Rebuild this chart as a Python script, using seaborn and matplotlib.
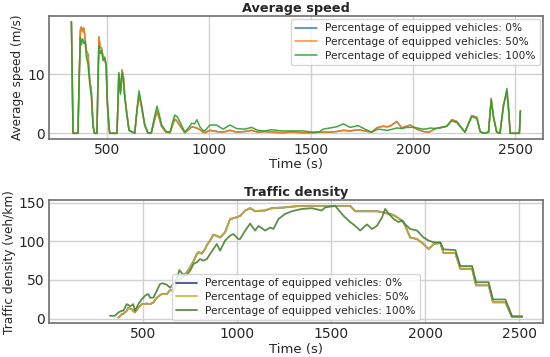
import numpy as np
import pandas as pd
import matplotlib
matplotlib.use("Agg")
import matplotlib.pyplot as plt
import seaborn as sns

nan = np.nan

# Average speed (m/s)
t_speed = [327, 335, 359, 365, 371, 376, 382, 388, 394, 400, 408, 417, 425, 433, 440,
           452, 457, 462, 468, 474, 482, 490, 497, 503, 511, 515, 550, 555, 559, 567,
           575, 582, 588, 597, 609, 637, 648, 658, 670, 686, 702, 718, 732, 746, 757,
           768, 790, 810, 822, 833, 845, 860, 882, 900, 916, 930, 941, 956, 971, 980,
           1005, 1037, 1070, 1103, 1136, 1176, 1209, 1240, 1274, 1307, 1356, 1405,
           1460, 1510, 1540, 1559, 1593, 1625, 1658, 1691, 1731, 1764, 1797, 1821,
           1829, 1854, 1871, 1887, 1920, 1944, 1969, 1985, 2009, 2018, 2050, 2075,
           2083, 2110, 2140, 2165, 2189, 2214, 2238, 2254, 2270, 2287, 2312, 2328,
           2345, 2369, 2382, 2393, 2409, 2425, 2442, 2459, 2467, 2475, 2520, 2525]
speed_50 = [18.9, 0, 0, 9, 17.5, 18.0, 17.2, 17.8, 16.0, 14.0, 13.4, 9.0, 7.0, 1.5, 0,
            0, 9, 16.3, 14.5, 14.5, 13.0, 12.5, 11.5, 5.0, 1.0, 0, 0, 5, 10.0, 7.0,
            10.7, 9.5, 6.5, 3.8, 0.5, 0, 3.8, 6.5, 4.5, 1.3, 0, 0, 2.0, 3.7, 2.6,
            1.2, 0.2, 0.1, 1.4, 2.4, 2.0, 1.2, 0.1, 0.6, 1.1, 1.0, 0.9, 0.6, 0.2, 0.1,
            0.5, 0.3, 0.2, 0.5, 0.2, 0.3, 0.5, 0.2, 0.3, 0.2, 0.1, 0.2,
            0.1, 0.1, 0.2, 0.2, 0.2, 0.3, 0.5, 0.4, 0.6, 0.4, 0.2, 0.9,
            1.0, 1.2, 1.1, 1.2, 2.0, 0.9, 1.2, 1.4, 0.9, 0.7, 0.3, 0.2,
            0.3, 0.8, 1.0, 1.2, 2.3, 2.0, 0.9, 0.2, 1.6, 3.0, 2.7, 0.3,
            0, 0.2, 5.9, 2.9, 0.2, 0, 4.8, 7.0, 4.0, 0, 0, 3.8]
speed_100 = [18.9, 0, 0, 9, 16.2, 15.0, 16.0, 15.2, 15.6, 13.0, 11.7, 8.3, 6.1, 1.0, 0,
             0, 8, 14.8, 13.5, 14.0, 12.3, 12.9, 11.7, 5.5, 1.2, 0, 0, 5, 10.3, 6.6,
             10.2, 8.5, 6.0, 3.4, 0.5, 0, 4.0, 7.2, 4.9, 1.5, 0.1, 0.1, 2.5, 4.6, 3.2,
             1.5, 0.3, 0.2, 1.8, 3.1, 2.8, 1.8, 0.2, 0.9, 1.7, 1.6, 2.3, 1.1, 0.5, 0.4,
             1.4, 1.4, 0.7, 1.4, 0.8, 0.7, 1.0, 0.5, 0.4, 0.6, 0.4, 0.4,
             0.4, 0.2, 0.2, 0.7, 0.9, 1.1, 1.6, 1.0, 1.3, 0.7, 0.2, 0.6,
             0.7, 0.6, 0.5, 0.6, 0.9, 0.8, 1.0, 1.0, 1.0, 0.9, 0.7, 0.8,
             0.9, 0.8, 1.0, 1.2, 2.1, 1.8, 0.8, 0.2, 1.5, 2.8, 2.5, 0.3,
             0, 0.2, 5.6, 2.7, 0.2, 0, 4.5, 7.6, 4.3, 0, 0, 3.8]
speed_0 = list(speed_50)  # hidden under the 50% line in the original

# Traffic density (veh/km)
t_dens = [324, 350, 369, 378, 387, 395, 404, 413, 422, 431, 440, 448, 457, 475, 493,
          511, 520, 528, 537, 555, 573, 590, 599, 608, 626, 644, 661, 682, 693, 706,
          714, 732, 750, 759, 768, 777, 785, 794, 803, 812, 821, 830, 839, 856, 874,
          892, 910, 936, 963, 980, 1007, 1016, 1043, 1069, 1096, 1113, 1149, 1176,
          1193, 1220, 1255, 1291, 1344, 1397, 1450, 1468, 1521, 1566, 1601, 1628,
          1654, 1690, 1717, 1743, 1770, 1787, 1805, 1832, 1858, 1876, 1885, 1920,
          1956, 1991, 2018, 2045, 2080, 2097, 2160, 2186, 2249, 2270, 2337, 2360,
          2426, 2461, 2515]
dens_50 = [nan, nan, 1.3, 3, 5.6, 6, 7.8, 10, 14, 13, 12, 10, 7.8, 14, 18.6,
           19, 19.5, 19, 18.6, 20.8, 27, 30, 31.6, 31.6, 31.6, 36.8, 36, 46.8, 50, 53,
           55, 60, 66, 70.5, 74, 79, 83, 86, 85, 84, 87, 90, 95, 101, 108.7,
           107, 105, 111.7, 129, 130, 132, 133, 140, 143, 139, 139.5, 140, 142.5,
           143, 143.5, 144, 145, 146, 146, 146, 146, 146, 146, 146, 139,
           139, 139, 139, 139, 138, 136.5, 136, 134, 130, 127, 125, 105,
           103, 96.5, 90, 96.5, 98, 85, 85, 64.5, 64.5, 43, 43, 21,
           21, 2, 2]
dens_100 = [3.5, 3.5, 7.8, 9, 10, 10, 14, 18.6, 17.5, 16, 17, 18.6, 10, 18.6, 25,
            29.5, 31, 31.7, 27, 27, 36, 44.6, 45.5, 45.5, 43.7, 40, 44.6, 53, 62.8, 59,
            57, 56, 62, 66, 70.5, 72, 72.6, 75, 77, 76, 75, 76, 77, 83.5, 90,
            96.5, 88, 101, 107.5, 109.5, 103, 103, 114, 123, 114, 120, 114, 118,
            116, 129, 135.5, 139, 142, 143, 140, 144, 146, 133, 125, 120,
            114, 122, 116, 120, 131, 142, 136, 129, 125, 127, 124, 116,
            114, 105, 101, 98.7, 98.7, 89.6, 88.7, 68, 68, 47, 47, 24.7,
            24.7, 3, 3]
dens_0 = list(dens_50)

labels = ["Percentage of equipped vehicles: 0%",
          "Percentage of equipped vehicles: 50%",
          "Percentage of equipped vehicles: 100%"]


def long_table(t, series):
    frames = []
    for lab, vals in zip(labels, series):
        frames.append(pd.DataFrame({"time": t, "value": vals, "pct": lab}))
    return pd.concat(frames, ignore_index=True).dropna()


speed_df = long_table(t_speed, [speed_0, speed_50, speed_100])
dens_df = long_table(t_dens, [dens_0, dens_50, dens_100])

sns.set_theme(style="whitegrid")
plt.rcParams["font.family"] = ["DejaVu Sans"]
plt.rcParams["axes.edgecolor"] = "0.45"
plt.rcParams["grid.color"] = "0.82"

fig, (ax1, ax2) = plt.subplots(2, 1, figsize=(5.5, 3.57), dpi=100)
fig.subplots_adjust(left=0.089, right=0.987, top=0.955, bottom=0.095, hspace=0.5)


def style_axis(ax, title, ylabel):
    ax.set_title(title, fontsize=9.3, fontweight="bold", pad=3)
    ax.set_xlabel("Time (s)", fontsize=9.5, labelpad=1)
    ax.set_ylabel(ylabel, fontsize=8.7, labelpad=2)
    ax.set_xticks([500, 1000, 1500, 2000, 2500])
    ax.tick_params(labelsize=10, length=0, pad=3)


# Average speed
sns.lineplot(data=speed_df, x="time", y="value", hue="pct", hue_order=labels,
             palette=["#1f77b4", "#ff7f0e", "#2ca02c"], linewidth=1.1, alpha=0.9,
             ax=ax1, sort=True)
style_axis(ax1, "Average speed", "Average speed (m/s)")
ax1.set_yticks([0, 10])
h, l = ax1.get_legend_handles_labels()
ax1.legend(h, l, loc="upper right", fontsize=7.6, frameon=True,
           borderaxespad=0.3, handlelength=2.0, labelspacing=0.35)

# Traffic density
sns.lineplot(data=dens_df, x="time", y="value", hue="pct", hue_order=labels,
             palette=["#2b3d8f", "#cdb22c", "#4b8232"], linewidth=1.3, alpha=0.9,
             ax=ax2, sort=True)
style_axis(ax2, "Traffic density", "Traffic density (veh/km)")
ax2.set_xlim(0, 2625)
ax2.set_yticks([0, 50, 100, 150])
h, l = ax2.get_legend_handles_labels()
ax2.legend(h, l, loc="lower center", fontsize=7.6, frameon=True,
           borderaxespad=0.3, handlelength=2.0, labelspacing=0.35)

fig.savefig("out.png", dpi=100)
